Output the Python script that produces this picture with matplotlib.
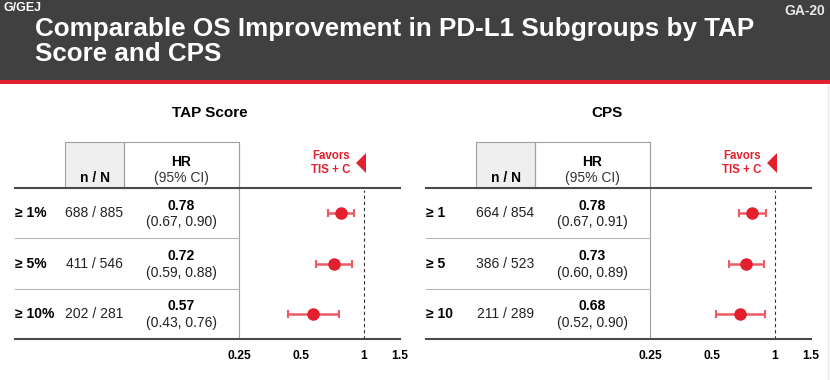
import matplotlib
matplotlib.use("Agg")
import matplotlib.pyplot as plt
from matplotlib.patches import Rectangle, Polygon
from matplotlib.lines import Line2D

plt.rcParams['font.family'] = ['Liberation Sans', 'DejaVu Sans']

# ---------------- data ----------------
panel_titles = ["TAP Score", "CPS"]
tap_labels = ["\u2265 1%", "\u2265 5%", "\u2265 10%"]
tap_nN = ["688 / 885", "411 / 546", "202 / 281"]
tap_hr = [0.78, 0.72, 0.57]
tap_lo = [0.67, 0.59, 0.43]
tap_hi = [0.90, 0.88, 0.76]

cps_labels = ["\u2265 1", "\u2265 5", "\u2265 10"]
cps_nN = ["664 / 854", "386 / 523", "211 / 289"]
cps_hr = [0.78, 0.73, 0.68]
cps_lo = [0.67, 0.60, 0.52]
cps_hi = [0.91, 0.89, 0.90]

xticks = [0.25, 0.5, 1, 1.5]
xtick_labels = ["0.25", "0.5", "1", "1.5"]

W, H = 830, 380
fig = plt.figure(figsize=(W / 100, H / 100), dpi=100)
fig.patch.set_facecolor("white")


def fx(x):
    return x / W


def fy(y):
    return 1 - y / H


def hline(x0, x1, y, **kw):
    fig.add_artist(Line2D([fx(x0), fx(x1)], [fy(y), fy(y)], transform=fig.transFigure, **kw))


def vline(x, y0, y1, **kw):
    fig.add_artist(Line2D([fx(x), fx(x)], [fy(y0), fy(y1)], transform=fig.transFigure, **kw))


def text(x, y, s, **kw):
    return fig.text(fx(x), fy(y), s, **kw)


# ---------------- header ----------------
fig.add_artist(Rectangle((0, fy(80)), 1, 80 / H, transform=fig.transFigure,
                         facecolor="#404040", edgecolor="none"))
fig.add_artist(Rectangle((0, fy(83.5)), 1, 3.5 / H, transform=fig.transFigure,
                         facecolor="#e3202d", edgecolor="none"))
text(3, 8, "G/GEJ", color="white", fontsize=9, fontweight="bold", va="center", ha="left")
text(825, 11, "GA-20", color="#e8e8e8", fontsize=10, fontweight="bold", va="center", ha="right")
text(35, 36, "Comparable OS Improvement in PD-L1 Subgroups by TAP", color="white",
     fontsize=18.7, fontweight="bold", va="baseline", ha="left")
text(35, 61, "Score and CPS", color="white",
     fontsize=18.7, fontweight="bold", va="baseline", ha="left")
vline(828, 84, 380, color="#e6e6e6", lw=1)

# ---------------- panels ----------------
red = "#e3202d"
bar_red = "#ec5a66"
dark = "#4a4a4a"
grid = "#b8b8b8"

panels = [
    (0, 210, panel_titles[0], tap_labels, tap_nN, tap_hr, tap_lo, tap_hi),
    (411, 607, panel_titles[1], cps_labels, cps_nN, cps_hr, cps_lo, cps_hi),
]

for dx, tx, ptitle, labels, nN, hr, lo, hi in panels:
    left = 15 + dx
    nbox0, nbox1 = 65 + dx, 124 + dx
    hbox1 = 239 + dx
    right = 400 + dx
    top_box, y_top, y_bot = 142, 188, 339
    row_h = (y_bot - y_top) / 3

    text(tx, 113, ptitle, fontsize=11, fontweight="bold",
         ha="center", va="center", color="black")

    # header boxes
    fig.add_artist(Rectangle((fx(nbox0), fy(y_top)), (nbox1 - nbox0) / W, (y_top - top_box) / H,
                             transform=fig.transFigure, facecolor="#efefef",
                             edgecolor="#a0a0a0", lw=0.8))
    fig.add_artist(Rectangle((fx(nbox1), fy(y_top)), (hbox1 - nbox1) / W, (y_top - top_box) / H,
                             transform=fig.transFigure, facecolor="none",
                             edgecolor="#a0a0a0", lw=0.8))
    text((nbox0 + nbox1) / 2, 178, "n / N", fontsize=10, fontweight="bold",
         ha="center", va="center")
    text((nbox1 + hbox1) / 2, 162, "HR", fontsize=10, fontweight="bold",
         ha="center", va="center")
    text((nbox1 + hbox1) / 2, 178, "(95% CI)", fontsize=10,
         ha="center", va="center", color="#333333")

    # favors
    text(350 + dx, 156, "Favors", fontsize=8.3, fontweight="bold", color=red,
         ha="right", va="center")
    text(350 + dx, 170, "TIS + C", fontsize=8.3, fontweight="bold", color=red,
         ha="right", va="center")
    fig.add_artist(Polygon([(fx(356 + dx), fy(163)), (fx(366 + dx), fy(153)),
                            (fx(366 + dx), fy(173))], closed=True,
                           transform=fig.transFigure, facecolor=red, edgecolor="none"))

    # lines
    vline(hbox1, top_box, y_bot, color="#a0a0a0", lw=0.8)
    for i in (1, 2):
        hline(left, hbox1, y_top + i * row_h, color=grid, lw=0.8)
    hline(left, right, y_top, color=dark, lw=1.5)
    hline(left, right, y_bot, color=dark, lw=1.5)

    # rows
    for i in range(3):
        yc = y_top + (i + 0.5) * row_h
        text(left, yc, labels[i], fontsize=10, fontweight="bold", ha="left", va="center")
        text((nbox0 + nbox1) / 2, yc, nN[i], fontsize=10, ha="center", va="center",
             color="#222222")
        text((nbox1 + hbox1) / 2, yc - 7.5, f"{hr[i]:.2f}", fontsize=10, fontweight="bold",
             ha="center", va="center")
        text((nbox1 + hbox1) / 2, yc + 9, f"({lo[i]:.2f}, {hi[i]:.2f})", fontsize=10,
             ha="center", va="center", color="#222222")

    # forest axes
    ax = fig.add_axes([fx(hbox1), fy(y_bot), (right - hbox1) / W, (y_bot - y_top) / H])
    ax.set_xscale("log")
    ax.set_xlim(0.25, 1.5)
    ax.set_ylim(3.5, 0.5)
    ax.patch.set_alpha(0)
    for s in ax.spines.values():
        s.set_visible(False)
    ypos = [1, 2, 3]
    xerr = [[h - l for h, l in zip(hr, lo)], [u - h for u, h in zip(hi, hr)]]
    ax.errorbar(hr, ypos, xerr=xerr, fmt="none", ecolor=bar_red, elinewidth=1.8,
                capsize=3, capthick=1.5, zorder=2)
    ax.plot(hr, ypos, "o", color=red, markersize=8, zorder=3)
    ax.axvline(1, ymin=0, ymax=0.99, color="#333333", lw=0.8, ls=(0, (3, 2.5)))
    ax.set_yticks([])
    ax.set_xticks(xticks)
    ax.set_xticklabels(xtick_labels)
    ax.minorticks_off()
    ax.tick_params(axis="x", length=0, pad=8, labelsize=8.7)
    for t in ax.get_xticklabels():
        t.set_fontweight("bold")

fig.savefig("out.png", dpi=100)
